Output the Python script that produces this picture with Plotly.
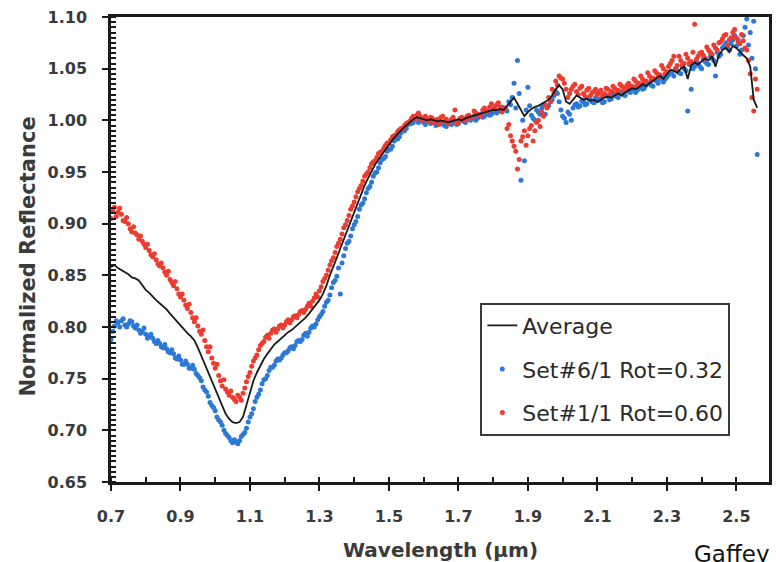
import plotly.graph_objects as go

# Wavelength grids (µm): main samples every 0.01 µm and the in-between samples
wavelength = [round(0.70 + 0.01 * i, 2) for i in range(187)]
wavelength_half = [round(0.705 + 0.01 * i, 3) for i in range(186)]

average = [
    0.858, 0.860, 0.857, 0.855, 0.853, 0.851, 0.848, 0.847, 0.845, 0.840,
    0.836, 0.833, 0.829, 0.826, 0.823, 0.820, 0.817, 0.813, 0.809, 0.805,
    0.801, 0.797, 0.794, 0.791, 0.787, 0.780, 0.772, 0.763, 0.755, 0.747,
    0.739, 0.731, 0.723, 0.716, 0.711, 0.708, 0.707, 0.708, 0.713, 0.724,
    0.737, 0.748, 0.756, 0.763, 0.769, 0.774, 0.779, 0.783, 0.786, 0.789,
    0.792, 0.795, 0.797, 0.800, 0.803, 0.806, 0.809, 0.813, 0.817, 0.821,
    0.826, 0.832, 0.840, 0.850, 0.858, 0.867, 0.876, 0.885, 0.894, 0.903,
    0.912, 0.921, 0.930, 0.937, 0.944, 0.951, 0.957, 0.962, 0.967, 0.972,
    0.977, 0.981, 0.985, 0.989, 0.992, 0.995, 0.998, 1.001, 1.003, 1.002,
    1.001, 1.000, 1.001, 1.000, 0.999, 1.000, 0.999, 0.998, 0.999, 1.000,
    1.001, 1.000, 1.002, 1.003, 1.004, 1.005, 1.006, 1.007, 1.008, 1.009,
    1.010, 1.010, 1.011, 1.010, 1.014, 1.018, 1.022, 1.016, 1.010, 1.004,
    1.008, 1.011, 1.013, 1.014, 1.016, 1.018, 1.020, 1.024, 1.030, 1.034,
    1.030, 1.018, 1.016, 1.020, 1.024, 1.022, 1.020, 1.021, 1.019, 1.020,
    1.018, 1.020, 1.022, 1.023, 1.022, 1.024, 1.026, 1.024, 1.027, 1.029,
    1.031, 1.030, 1.032, 1.035, 1.033, 1.036, 1.038, 1.041, 1.043, 1.040,
    1.044, 1.049, 1.048, 1.046, 1.050, 1.052, 1.040, 1.053, 1.056, 1.054,
    1.057, 1.060, 1.058, 1.062, 1.052, 1.063, 1.068, 1.070, 1.066, 1.072,
    1.070, 1.066, 1.063, 1.060, 1.052, 1.020, 1.012,
]

set6_rot032 = [
    0.788, 0.801, 0.804, 0.806, 0.802, 0.803, 0.805, 0.799, 0.797, 0.796,
    0.793, 0.791, 0.789, 0.784, 0.784, 0.780, 0.779, 0.775, 0.774, 0.769,
    0.768, 0.764, 0.764, 0.760, 0.759, 0.753, 0.748, 0.739, 0.733, 0.724,
    0.719, 0.710, 0.705, 0.697, 0.693, 0.688, 0.689, 0.690, 0.696, 0.702,
    0.713, 0.721, 0.732, 0.739, 0.749, 0.753, 0.761, 0.763, 0.769, 0.770,
    0.775, 0.777, 0.781, 0.782, 0.787, 0.788, 0.794, 0.795, 0.801, 0.803,
    0.810, 0.815, 0.824, 0.831, 0.843, 0.849, 0.832, 0.869, 0.881, 0.888,
    0.899, 0.907, 0.918, 0.924, 0.934, 0.940, 0.949, 0.954, 0.962, 0.965,
    0.972, 0.975, 0.982, 0.984, 0.990, 0.992, 0.997, 0.998, 1.003, 1.000,
    0.998, 1.001, 0.997, 0.999, 0.996, 0.998, 0.995, 0.997, 0.996, 0.999,
    0.997, 1.000, 0.998, 1.001, 1.002, 1.000, 1.004, 1.003, 1.006, 1.005,
    1.008, 1.007, 1.010, 1.012, 1.009, 1.015, 1.036, 1.058, 0.942, 0.961,
    1.032, 1.005, 1.000, 1.008, 1.012, 1.006, 1.014, 1.020, 1.028, 1.018,
    1.004, 0.998, 1.006, 1.012, 1.016, 1.014, 1.018, 1.016, 1.020, 1.017,
    1.019, 1.021, 1.018, 1.023, 1.021, 1.024, 1.022, 1.026, 1.024, 1.028,
    1.030, 1.027, 1.032, 1.030, 1.034, 1.036, 1.033, 1.038, 1.040, 1.037,
    1.042, 1.046, 1.043, 1.048, 1.045, 1.050, 1.009, 1.030, 1.052, 1.055,
    1.050, 1.057, 1.054, 1.060, 1.043, 1.062, 1.070, 1.075, 1.068, 1.078,
    1.072, 1.064, 1.082, 1.098, 1.085, 1.096, 0.967,
]

set6_rot032_half = [
    0.796, 0.806, 0.800, 0.808, 0.800, 0.806, 0.801, 0.802, 0.794, 0.799,
    0.789, 0.793, 0.786, 0.787, 0.781, 0.783, 0.776, 0.778, 0.770, 0.772,
    0.764, 0.767, 0.760, 0.763, 0.755, 0.751, 0.742, 0.737, 0.727, 0.722,
    0.713, 0.708, 0.700, 0.695, 0.690, 0.691, 0.687, 0.694, 0.698, 0.708,
    0.716, 0.728, 0.735, 0.745, 0.750, 0.758, 0.761, 0.767, 0.768, 0.773,
    0.775, 0.780, 0.779, 0.786, 0.786, 0.792, 0.791, 0.799, 0.800, 0.807,
    0.812, 0.820, 0.826, 0.838, 0.845, 0.857, 0.862, 0.876, 0.883, 0.895,
    0.902, 0.914, 0.920, 0.930, 0.936, 0.946, 0.950, 0.959, 0.963, 0.970,
    0.972, 0.980, 0.982, 0.988, 0.990, 0.996, 0.997, 1.001, 0.998, 1.000,
    0.996, 1.000, 0.998, 0.995, 0.999, 0.997, 0.994, 0.998, 0.999, 0.996,
    1.001, 0.999, 1.003, 1.000, 1.004, 1.002, 1.006, 1.004, 1.008, 1.006,
    1.010, 1.009, 1.013, 1.011, 1.018, 1.022, 1.012, 1.026, 1.000, 1.010,
    1.014, 1.002, 1.010, 1.006, 1.015, 1.013, 1.018, 1.024, 1.026, 1.010,
    1.002, 1.008, 1.000, 1.015, 1.013, 1.019, 1.015, 1.021, 1.018, 1.022,
    1.020, 1.017, 1.024, 1.020, 1.026, 1.023, 1.027, 1.025, 1.030, 1.027,
    1.032, 1.029, 1.034, 1.031, 1.036, 1.034, 1.039, 1.036, 1.042, 1.040,
    1.044, 1.047, 1.050, 1.046, 1.052, 1.048, 1.054, 1.050, 1.057, 1.052,
    1.059, 1.055, 1.062, 1.058, 1.066, 1.064, 1.072, 1.070, 1.074, 1.082,
    1.078, 1.068, 1.090, 1.073, 1.060, 1.050,
]

set1_rot060 = [
    0.905, 0.916, 0.911, 0.909, 0.902, 0.900, 0.892, 0.891, 0.885, 0.883,
    0.877, 0.874, 0.868, 0.865, 0.859, 0.857, 0.850, 0.846, 0.840, 0.837,
    0.829, 0.826, 0.818, 0.814, 0.805, 0.801, 0.793, 0.787, 0.776, 0.770,
    0.760, 0.753, 0.743, 0.740, 0.734, 0.732, 0.728, 0.732, 0.736, 0.747,
    0.756, 0.767, 0.773, 0.782, 0.786, 0.792, 0.794, 0.798, 0.798, 0.802,
    0.802, 0.807, 0.807, 0.811, 0.812, 0.816, 0.817, 0.823, 0.825, 0.832,
    0.835, 0.844, 0.850, 0.860, 0.867, 0.878, 0.885, 0.896, 0.903, 0.914,
    0.921, 0.931, 0.937, 0.946, 0.950, 0.958, 0.961, 0.968, 0.970, 0.976,
    0.978, 0.984, 0.986, 0.991, 0.992, 0.997, 0.999, 1.004, 1.005, 1.004,
    1.002, 1.000, 1.003, 0.998, 1.001, 1.003, 0.999, 0.997, 1.001, 1.010,
    0.999, 1.003, 1.001, 1.005, 1.003, 1.007, 1.005, 1.010, 1.008, 1.013,
    1.011, 1.015, 1.013, 1.010, 0.992, 0.985, 0.975, 0.953, 0.980, 0.990,
    0.985, 0.995, 0.990, 1.000, 1.008, 1.015, 1.022, 1.030, 1.038, 1.043,
    1.040, 1.030, 1.026, 1.033, 1.028, 1.031, 1.026, 1.029, 1.024, 1.028,
    1.025, 1.029, 1.026, 1.030, 1.028, 1.031, 1.029, 1.033, 1.031, 1.036,
    1.033, 1.038, 1.036, 1.040, 1.038, 1.043, 1.041, 1.046, 1.044, 1.050,
    1.047, 1.055, 1.062, 1.053, 1.058, 1.055, 1.060, 1.057, 1.093, 1.062,
    1.066, 1.060, 1.068, 1.064, 1.070, 1.075, 1.079, 1.083, 1.078, 1.085,
    1.080, 1.074, 1.077, 1.068, 1.045, 1.009, 1.030,
]

set1_rot060_half = [
    0.912, 0.907, 0.915, 0.903, 0.906, 0.895, 0.897, 0.889, 0.888, 0.880,
    0.880, 0.870, 0.871, 0.861, 0.862, 0.853, 0.854, 0.843, 0.844, 0.832,
    0.832, 0.821, 0.822, 0.809, 0.809, 0.796, 0.797, 0.781, 0.781, 0.765,
    0.764, 0.748, 0.749, 0.737, 0.738, 0.730, 0.734, 0.729, 0.741, 0.752,
    0.762, 0.770, 0.778, 0.784, 0.790, 0.789, 0.797, 0.795, 0.801, 0.799,
    0.805, 0.804, 0.810, 0.809, 0.815, 0.814, 0.820, 0.820, 0.828, 0.829,
    0.839, 0.847, 0.855, 0.864, 0.872, 0.881, 0.890, 0.899, 0.908, 0.917,
    0.926, 0.934, 0.941, 0.948, 0.954, 0.960, 0.964, 0.969, 0.973, 0.978,
    0.981, 0.985, 0.989, 0.992, 0.995, 0.998, 1.002, 1.001, 1.007, 1.000,
    1.004, 0.999, 1.002, 1.000, 0.996, 1.004, 1.001, 0.998, 1.003, 0.997,
    1.002, 1.000, 1.004, 1.002, 1.009, 1.006, 1.004, 1.012, 1.009, 1.016,
    1.013, 1.017, 1.008, 1.012, 0.996, 0.980, 0.970, 0.962, 0.984, 0.976,
    0.992, 0.980, 0.998, 0.994, 1.004, 1.012, 1.018, 1.026, 1.034, 1.041,
    1.036, 1.022, 1.030, 1.035, 1.025, 1.033, 1.023, 1.031, 1.027, 1.030,
    1.027, 1.024, 1.031, 1.025, 1.033, 1.027, 1.035, 1.029, 1.034, 1.032,
    1.040, 1.034, 1.043, 1.037, 1.046, 1.039, 1.048, 1.042, 1.053, 1.045,
    1.052, 1.058, 1.050, 1.062, 1.054, 1.064, 1.056, 1.066, 1.059, 1.065,
    1.063, 1.071, 1.066, 1.073, 1.068, 1.076, 1.082, 1.073, 1.080, 1.088,
    1.076, 1.083, 1.070, 1.058, 1.022, 1.040,
]

FONT = "DejaVu Sans"
BLUE = "#2b78d6"
RED = "#ee3b30"
LABEL = "#3a3a3a"

fig = go.Figure()
fig.add_trace(go.Scatter(
    x=wavelength + wavelength_half, y=set6_rot032 + set6_rot032_half,
    mode="markers", name="Set#6/1 Rot=0.32",
    marker=dict(color=BLUE, size=5), legendgroup="b", legendrank=2,
))
fig.add_trace(go.Scatter(
    x=wavelength + wavelength_half, y=set1_rot060 + set1_rot060_half,
    mode="markers", name="Set#1/1 Rot=0.60",
    marker=dict(color=RED, size=5), legendgroup="c", legendrank=3,
))
fig.add_trace(go.Scatter(
    x=wavelength, y=average, mode="lines", name="Average",
    line=dict(color="#1a1a1a", width=1.8), legendgroup="a", legendrank=1,
))

axis_common = dict(
    showgrid=False, zeroline=False, showline=True, linecolor="#1a1a1a",
    linewidth=2.5, mirror=True, ticks="outside", tickcolor="#1a1a1a",
    tickwidth=2, ticklen=6, tickmode="linear",
    tickfont=dict(family=FONT, size=16, color=LABEL, weight="bold"),
)

fig.update_xaxes(
    range=[0.7, 2.594], tick0=0.7, dtick=0.2, tickformat=".1f",
    ticklabelstandoff=12,
    minor=dict(ticks="inside", tickmode="linear", tick0=0.7, dtick=0.1,
               ticklen=5, tickwidth=2, tickcolor="#1a1a1a", showgrid=False),
    **axis_common,
)
fig.update_yaxes(
    range=[0.65, 1.10], tick0=0.65, dtick=0.05, tickformat=".2f",
    ticklabelstandoff=12,
    minor=dict(ticks="inside", tickmode="linear", tick0=0.65, dtick=0.005,
               ticklen=5, tickwidth=1.5, tickcolor="#1a1a1a", showgrid=False),
    **axis_common,
)

fig.add_annotation(
    text="Wavelength (µm)", xref="paper", yref="paper", x=0.5, y=0,
    xanchor="center", yanchor="middle", yshift=-68, showarrow=False,
    font=dict(family=FONT, size=20, color=LABEL, weight="bold"),
)
fig.add_annotation(
    text="Normalized Reflectance", xref="paper", yref="paper", x=0, y=0.5,
    xanchor="center", yanchor="middle", xshift=-84, yshift=-7, textangle=-90,
    showarrow=False,
    font=dict(family=FONT, size=21, color=LABEL, weight="bold"),
)
fig.add_annotation(
    text="Gaffey", xref="paper", yref="paper", x=0, y=0,
    xanchor="left", yanchor="middle", xshift=581, yshift=-72, showarrow=False,
    font=dict(family=FONT, size=23, color="#111111"),
)

fig.update_layout(
    width=780, height=562,
    margin=dict(l=111, r=8, t=16, b=80),
    paper_bgcolor="white", plot_bgcolor="white",
    showlegend=True,
    legend=dict(
        x=0.5613, y=0.386, xanchor="left", yanchor="top",
        bordercolor="#3a3a3a", borderwidth=2, bgcolor="white",
        font=dict(family=FONT, size=22, color="#2a2a2a"),
        traceorder="grouped", tracegroupgap=12, itemwidth=30,
    ),
)

fig.write_html(
    "out.html",
    config={"displayModeBar": False},
    post_script="document.body.style.margin='0px';document.body.style.padding='0px';",
)
